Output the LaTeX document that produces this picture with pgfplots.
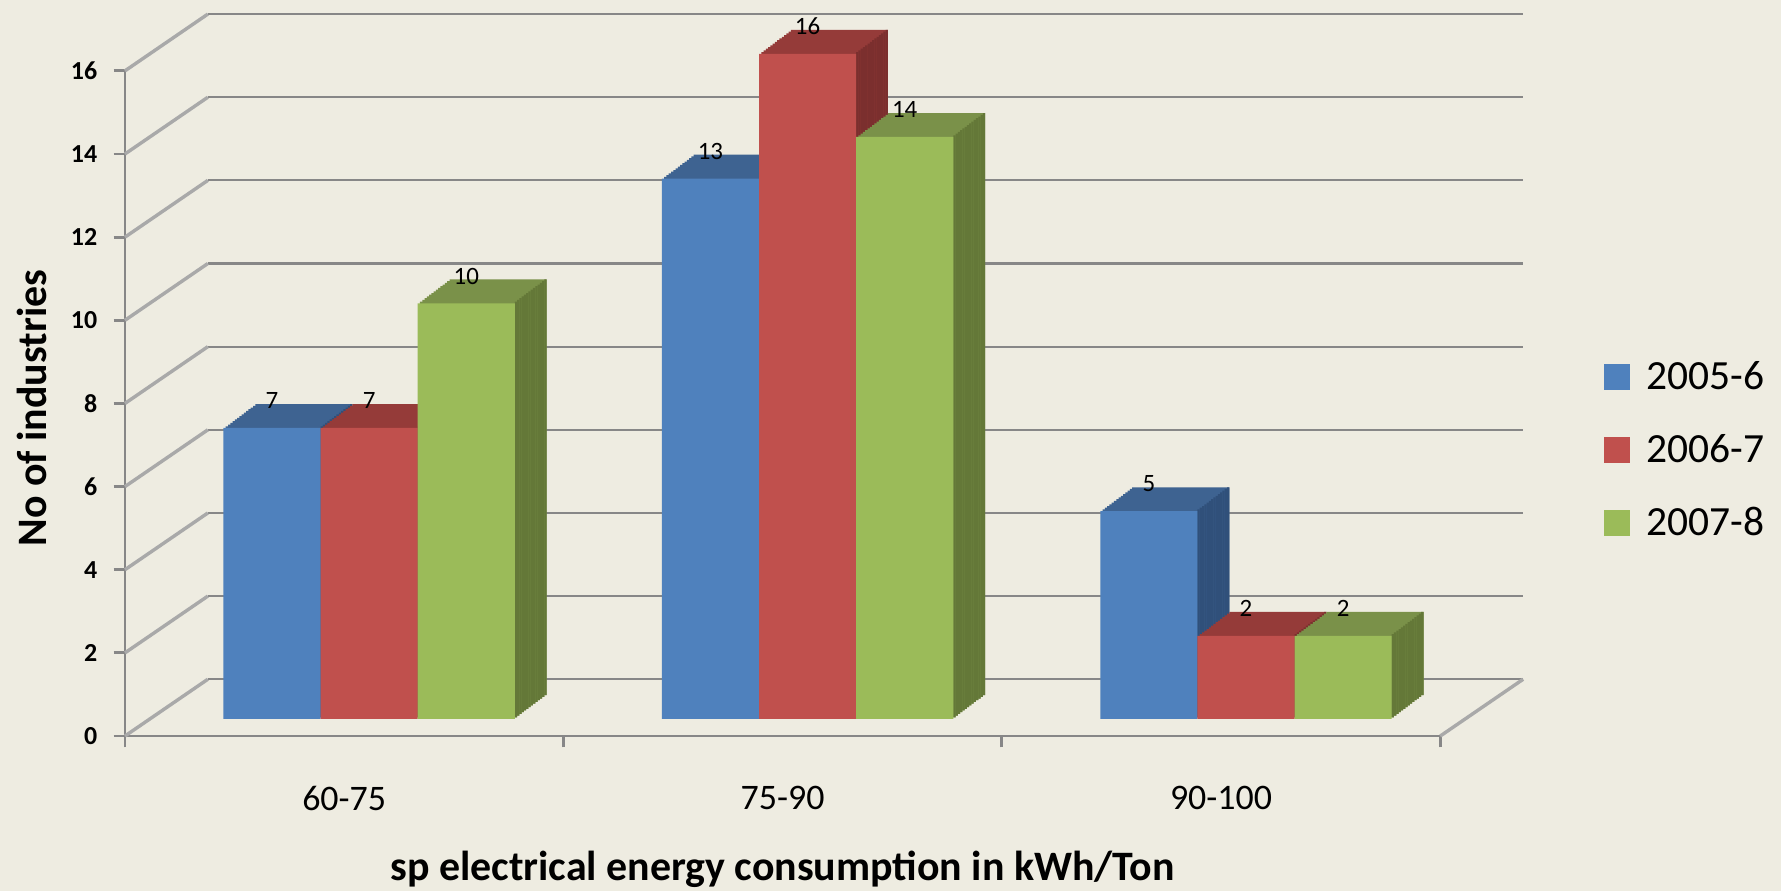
\documentclass[border=0pt]{standalone}
\usepackage{fontspec}
\setmainfont{Carlito}
\usepackage{pgfplots}
\usepackage{pgfplotstable}
\pgfplotsset{compat=1.18}

\newlength\U
\setlength\U{0.02cm}

\definecolor{bg}{HTML}{EEECE1}
\definecolor{bfront}{HTML}{4F81BD}
\definecolor{btop}{HTML}{3E6391}
\definecolor{bside}{HTML}{30507A}
\definecolor{rfront}{HTML}{C0504D}
\definecolor{rtop}{HTML}{953B39}
\definecolor{rside}{HTML}{7B2F2E}
\definecolor{gfront}{HTML}{9BBB59}
\definecolor{gtop}{HTML}{7A9149}
\definecolor{gside}{HTML}{647838}
\definecolor{gridc}{HTML}{878787}
\definecolor{wallc}{HTML}{A9A9A9}

\pgfplotstableread{
x   a   b   c
0.5 7   7   10
1.5 13  16  14
2.5 5   2   2
}\datatable

\begin{document}
\begin{tikzpicture}
\fill[bg] (-110\U,-136\U) rectangle (1458\U,648\U);
\useasboundingbox (-110\U,-136\U) rectangle (1458\U,648\U);
\begin{axis}[
  at={(0,0)}, anchor=south west,
  x=386\U, y=36.6\U,
  xmin=0, xmax=3, ymin=0, ymax=16,
  clip=false,
  ybar, bar width=85.5\U,
  axis lines*=left,
  axis line style={gridc, line width=2.5\U},
  tick align=outside,
  major tick length=10\U,
  tick style={gridc, line width=2.5\U},
  xtick={0,1,2,3}, xticklabels={},
  ytick={0,2,...,16},
  /pgf/number format/assume math mode=true,
  yticklabel style={font=\fontsize{13}{13}\selectfont\bfseries, inner sep=0pt, xshift=-14\U},
  extra x ticks={0.5,1.5,2.5},
  extra x tick labels={60-75,75-90,90-100},
  extra x tick style={tick style={draw=none}, xticklabel style={font=\fontsize{18}{18}\selectfont, inner sep=0pt, anchor=north, yshift=-34\U}},
  xlabel={sp electrical energy consumption in kWh/Ton},
  ylabel={No of industries},
  xlabel style={font=\fontsize{21}{21}\selectfont\bfseries, at={(axis description cs:0.5,-0.2167)}, anchor=base},
  ylabel style={font=\fontsize{21}{21}\selectfont\bfseries, at={(axis description cs:-0.0708,0.493)}, anchor=center},
  legend style={at={(1.1244,0.43)}, anchor=west, draw=none, fill=none, inner sep=0pt, row sep=30\U, column sep=11\U, font=\fontsize{20.8}{20.8}\selectfont},
  legend cell align=left,
  every node near coord/.append style={anchor=center, yshift=24\U, font=\fontsize{12.5}{12.5}\selectfont, text=black},
]
% walls and gridlines
\pgfplotsinvokeforeach{0,2,...,16}{
  \draw[gridc, line width=2\U] ([shift={(73\U,50\U)}]axis cs:0,#1) -- ([shift={(73\U,50\U)}]axis cs:3,#1);
  \draw[wallc, line width=3\U] (axis cs:0,#1) -- ++(73\U,50\U);
}
\draw[wallc, line width=3\U] (axis cs:3,0) -- ++(73\U,50\U);

% series 2005-6
\pgfplotsinvokeforeach{1,...,14}{
  \addplot[fill=btop, draw=none, forget plot, bar shift=-85.5\U,
    xshift={(22+2*#1)*\U}, yshift={(15+1.5*#1)*\U}] table[x=x,y=a]{\datatable};
}
\pgfplotsinvokeforeach{1,...,14}{
  \addplot[fill=bside, draw=none, forget plot, bar shift=-43.75\U, bar width=2\U,
    xshift={(22+2*#1)*\U}, yshift={(15+1.5*#1)*\U}] table[x=x,y=a]{\datatable};
}
\addplot[fill=bfront, draw=none, forget plot, bar shift=-85.5\U, xshift=22\U, yshift=15\U,
  nodes near coords] table[x=x,y=a]{\datatable};

% series 2006-7
\pgfplotsinvokeforeach{1,...,14}{
  \addplot[fill=rtop, draw=none, forget plot, bar shift=0\U,
    xshift={(22+2*#1)*\U}, yshift={(15+1.5*#1)*\U}] table[x=x,y=b]{\datatable};
}
\pgfplotsinvokeforeach{1,...,14}{
  \addplot[fill=rside, draw=none, forget plot, bar shift=41.75\U, bar width=2\U,
    xshift={(22+2*#1)*\U}, yshift={(15+1.5*#1)*\U}] table[x=x,y=b]{\datatable};
}
\addplot[fill=rfront, draw=none, forget plot, bar shift=0\U, xshift=22\U, yshift=15\U,
  nodes near coords] table[x=x,y=b]{\datatable};

% series 2007-8
\pgfplotsinvokeforeach{1,...,14}{
  \addplot[fill=gtop, draw=none, forget plot, bar shift=85.5\U,
    xshift={(22+2*#1)*\U}, yshift={(15+1.5*#1)*\U}] table[x=x,y=c]{\datatable};
}
\pgfplotsinvokeforeach{1,...,14}{
  \addplot[fill=gside, draw=none, forget plot, bar shift=127.25\U, bar width=2\U,
    xshift={(22+2*#1)*\U}, yshift={(15+1.5*#1)*\U}] table[x=x,y=c]{\datatable};
}
\addplot[fill=gfront, draw=none, forget plot, bar shift=85.5\U, xshift=22\U, yshift=15\U,
  nodes near coords] table[x=x,y=c]{\datatable};

\addlegendimage{legend image code/.code={\fill[bfront] (0,-11\U) rectangle (22\U,11\U);}}
\addlegendentry{2005-6}
\addlegendimage{legend image code/.code={\fill[rfront] (0,-11\U) rectangle (22\U,11\U);}}
\addlegendentry{2006-7}
\addlegendimage{legend image code/.code={\fill[gfront] (0,-11\U) rectangle (22\U,11\U);}}
\addlegendentry{2007-8}
\end{axis}
\end{tikzpicture}
\end{document}
